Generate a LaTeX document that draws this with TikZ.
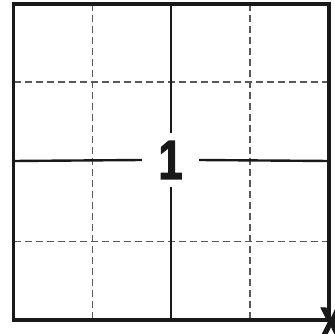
\documentclass[tikz,border=0pt]{standalone}
\usepackage{fontspec}
\setsansfont{Liberation Sans}
\newfontfamily\numfont[FakeBold=2.5]{Liberation Sans Bold}
\usepackage{tikz}
\usetikzlibrary{positioning, calc}
\tikzset{
    frame/.style   ={draw=black!90, line width=3.6pt},
    gridline/.style={draw=black!65, line width=1.4pt, dash pattern=on 7pt off 4pt},
    midline/.style ={draw=black!90, line width=2.4pt},
    bignum/.style  ={font=\numfont\fontsize{55}{55}\selectfont, text=black!90, inner sep=0pt, minimum width=57pt, minimum height=54pt},
    corner/.style  ={font=\numfont\fontsize{44}{44}\selectfont, text=black!90, inner sep=0pt, xscale=0.75, transform shape},
}
\begin{document}
\begin{tikzpicture}[x=1pt, y=-1pt]
    \useasboundingbox (0,0) rectangle (335,334);
        \coordinate (nw) at (13.5,4);
        \coordinate (se) at (329,320);
        \coordinate (n)  at (171,4);
        \coordinate (s)  at (171,320);
        \coordinate (w)  at (13.5,161);
        \coordinate (e)  at (329,161);
        \node[bignum] (one) at (170.5,160) {\raisebox{-3.5pt}{\scalebox{0.78}[1]{1}}};
        \draw[gridline] (92.5,4) -- (92.5,320);
        \draw[gridline] (250,4) -- (250,320);
        \draw[gridline] (13.5,82) -- (329,82);
        \draw[gridline] (13.5,241.5) -- (329,241.5);
        \draw[midline] (n) -- (n |- one.north);
        \draw[midline] (s) -- (s |- one.south);
        \draw[midline] (w) -- (one.west);
        \draw[midline] (e) -- (one.east);
        \draw[frame] (nw) rectangle (se);
        \begin{scope}
            \clip (0,0) rectangle (335,334);
            \node[corner] (mark) at (331,323) {X};
        \end{scope}
    \end{tikzpicture}
\end{document}
